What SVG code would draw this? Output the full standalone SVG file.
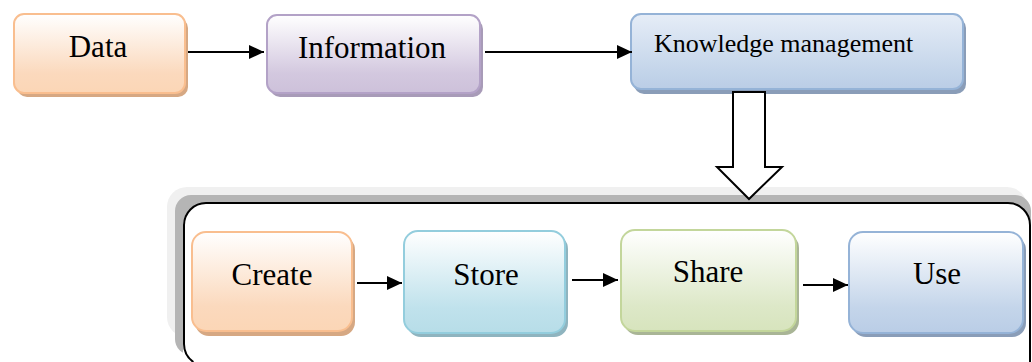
<svg xmlns="http://www.w3.org/2000/svg" width="1032" height="362" viewBox="0 0 1032 362">
<defs>
<linearGradient id="gOrange" x1="0" y1="0" x2="0" y2="1"><stop offset="0" stop-color="#ffffff"/><stop offset="0.75" stop-color="#fbd9bd"/><stop offset="1" stop-color="#fbd6b6"/></linearGradient>
<linearGradient id="gPurple" x1="0" y1="0" x2="0" y2="1"><stop offset="0" stop-color="#ffffff"/><stop offset="0.75" stop-color="#d3c8df"/><stop offset="1" stop-color="#cdc1da"/></linearGradient>
<linearGradient id="gBlue" x1="0" y1="0" x2="0" y2="1"><stop offset="0" stop-color="#ffffff"/><stop offset="0.75" stop-color="#c4d5ea"/><stop offset="1" stop-color="#bacde6"/></linearGradient>
<linearGradient id="gBlueKM" x1="0" y1="0" x2="0" y2="1"><stop offset="0" stop-color="#e6edf7"/><stop offset="0.75" stop-color="#c4d5ea"/><stop offset="1" stop-color="#bacde6"/></linearGradient>
<linearGradient id="gCyan" x1="0" y1="0" x2="0" y2="1"><stop offset="0" stop-color="#ffffff"/><stop offset="0.75" stop-color="#c0e2ec"/><stop offset="1" stop-color="#b7dde8"/></linearGradient>
<linearGradient id="gGreen" x1="0" y1="0" x2="0" y2="1"><stop offset="0" stop-color="#ffffff"/><stop offset="0.75" stop-color="#dde8c8"/><stop offset="1" stop-color="#d7e4bd"/></linearGradient>
<marker id="ah" markerUnits="userSpaceOnUse" markerWidth="16" markerHeight="14" refX="15" refY="7" orient="auto">
<path d="M0,0 L15,7 L0,14 Z" fill="#000"/>
</marker>
<style>
.lbl{font-family:"Liberation Serif","Times New Roman",serif;font-size:31px;fill:#000;text-anchor:middle}
.km{font-family:"Liberation Serif","Times New Roman",serif;font-size:26px;fill:#000}
.conn{stroke:#000;stroke-width:2;fill:none}
.box{stroke-width:2}
</style>
</defs>

<g id="container">
<rect x="167" y="187" width="860" height="150" rx="20" fill="#f0f0f0"/>
<rect x="175" y="195" width="856" height="160" rx="16" fill="#b5b5b5"/>
<rect x="183" y="203" width="847" height="200" rx="22" fill="#ffffff"/>
<path d="M193.4,362 A22,22 0 0 1 184,344 L184,225 A22,22 0 0 1 206,203 L1008,203 A22,22 0 0 1 1030,225 L1030,362" fill="none" stroke="#000" stroke-width="2"/>
</g>

<g id="node-data">
<rect x="17" y="18" width="171" height="79" rx="10" fill="#d6a883"/>
<rect class="box" x="14" y="14" width="171" height="79" rx="10" fill="url(#gOrange)" stroke="#f9be8f"/>
<text class="lbl" x="98" y="57">Data</text>
</g>

<g id="node-information">
<rect x="270" y="19" width="213" height="78" rx="10" fill="#a89bb8"/>
<rect class="box" x="267" y="15" width="213" height="78" rx="10" fill="url(#gPurple)" stroke="#b3a2c7"/>
<text class="lbl" x="372" y="58">Information</text>
</g>

<g id="node-km">
<rect x="634" y="18" width="332" height="76" rx="10" fill="#8a9db8"/>
<rect class="box" x="631" y="14" width="332" height="75" rx="10" fill="url(#gBlueKM)" stroke="#95b3d7"/>
<text class="km" x="654" y="52">Knowledge management</text>
</g>

<g id="node-create">
<rect x="195" y="236" width="160" height="100" rx="14" fill="#d6a883"/>
<rect class="box" x="192" y="232" width="160" height="99" rx="14" fill="url(#gOrange)" stroke="#f9be8f"/>
<text class="lbl" x="272" y="285">Create</text>
</g>

<g id="node-store">
<rect x="407" y="235" width="161" height="102" rx="14" fill="#8fb4bf"/>
<rect class="box" x="404" y="231" width="161" height="102" rx="14" fill="url(#gCyan)" stroke="#93cddd"/>
<text class="lbl" x="486" y="285">Store</text>
</g>

<g id="node-share">
<rect x="624" y="234" width="175" height="101" rx="14" fill="#a9b596"/>
<rect class="box" x="621" y="230" width="175" height="101" rx="14" fill="url(#gGreen)" stroke="#c3d69b"/>
<text class="lbl" x="708" y="282">Share</text>
</g>

<g id="node-use">
<rect x="852" y="236" width="174" height="101" rx="14" fill="#8a9db8"/>
<rect class="box" x="849" y="232" width="174" height="101" rx="14" fill="url(#gBlue)" stroke="#95b3d7"/>
<text class="lbl" x="937" y="284">Use</text>
</g>

<g id="connectors">
<line class="conn" x1="188" y1="52" x2="264" y2="52" marker-end="url(#ah)"/>
<line class="conn" x1="485" y1="52" x2="632" y2="52" marker-end="url(#ah)"/>
<line class="conn" x1="357" y1="283" x2="402" y2="283" marker-end="url(#ah)"/>
<line class="conn" x1="572" y1="280" x2="618" y2="280" marker-end="url(#ah)"/>
<line class="conn" x1="803" y1="285" x2="848" y2="285" marker-end="url(#ah)"/>
<path d="M733,92 L765,92 L765,167 L782,167 L749,199 L717,167 L733,167 Z" fill="#ffffff" stroke="#000" stroke-width="2" stroke-linejoin="miter"/>
</g>
</svg>
